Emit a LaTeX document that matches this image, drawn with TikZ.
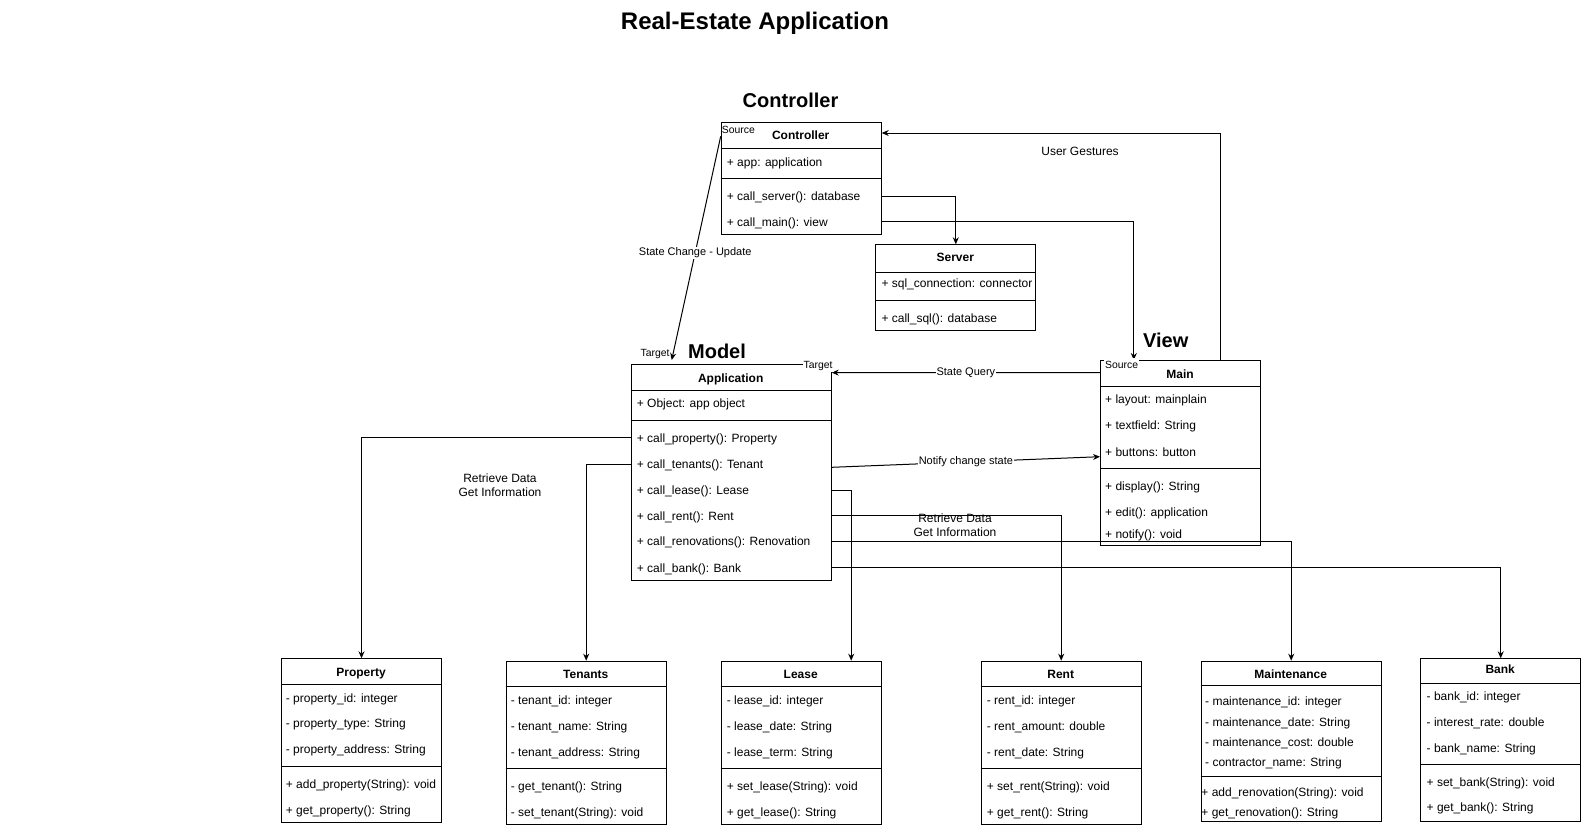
\documentclass[tikz,border=0pt]{standalone}
\usepackage{fontspec}
\setmainfont{Liberation Sans}
\usetikzlibrary{arrows.meta}

\tikzset{
  cls/.style={draw, line width=1pt, anchor=north west, inner sep=0pt, minimum width=160pt},
  hdr/.style={font=\fontsize{12}{14}\selectfont\bfseries, inner sep=0pt, text height=8.6pt, text depth=0pt},
  row/.style={font=\fontsize{12}{14}\selectfont, anchor=west, inner sep=0pt, text height=8.6pt, text depth=0pt},
  part/.style={font=\fontsize{20}{24}\selectfont\bfseries, inner sep=0pt, text height=14.4pt, text depth=0pt},
  elbl/.style={font=\fontsize{11}{13}\selectfont, fill=white, inner sep=1pt},
  note/.style={font=\fontsize{12}{14}\selectfont, align=center, inner sep=0pt},
  endlbl/.style={font=\fontsize{10.4}{12}\selectfont, inner sep=1pt, text height=7.4pt, text depth=0pt},
  arr/.style={-{Stealth[length=7pt,width=6pt]}, line width=1pt},
}

\begin{document}
\begin{tikzpicture}[x=1pt, y=-1pt]
  \useasboundingbox (0,0) rectangle (1581,828);
  \node[font=\fontsize{24}{28}\selectfont\bfseries, inner sep=0pt, text height=17.2pt, text depth=0pt] (title) at (755,20.5) {Real-Estate Application};
  \node[part] (p-ctrl) at (790.5,100.7) {Controller};
  \node[part] (p-model) at (717,351) {Model};
  \node[part] (p-view) at (1165.7,340.7) {View};

  \node[cls, minimum height=111.7pt] (ctrl) at (720.7,122.3) {};
  \draw[line width=1pt] ([yshift=-26.4pt]ctrl.north west) -- ([yshift=-26.4pt]ctrl.north east);
  \draw[line width=1pt] ([yshift=-56pt]ctrl.north west) -- ([yshift=-56pt]ctrl.north east);
  \node[hdr] (ctrl-h) at (800.7,135.5) {Controller};
  \node[row] (ctrl-a1) at (726.7,161.7) {+ app: application};
  \node[row] (ctrl-m1) at (726.7,196) {+ call\_server(): database};
  \node[row] (ctrl-m2) at (726.7,221.7) {+ call\_main(): view};
  \node[endlbl, anchor=west] (ctrl-src) at (720.7,129.3) {Source};

  \node[cls, minimum height=85.7pt] (server) at (875.3,244.3) {};
  \draw[line width=1pt] ([yshift=-28pt]server.north west) -- ([yshift=-28pt]server.north east);
  \draw[line width=1pt] ([yshift=-55.7pt]server.north west) -- ([yshift=-55.7pt]server.north east);
  \node[hdr] (server-h) at (955.3,257.3) {Server};
  \node[row] (server-a1) at (881.3,283.3) {+ sql\_connection: connector};
  \node[row] (server-m1) at (881.3,318) {+ call\_sql(): database};

  \node[cls, minimum width=200pt, minimum height=215.7pt] (app) at (630.7,364.3) {};
  \draw[line width=1pt] ([yshift=-26.4pt]app.north west) -- ([yshift=-26.4pt]app.north east);
  \draw[line width=1pt] ([yshift=-55.7pt]app.north west) -- ([yshift=-55.7pt]app.north east);
  \node[hdr] (app-h) at (730.7,377.7) {Application};
  \node[row] (app-a1) at (636.7,403.3) {+ Object: app object};
  \node[row] (app-m1) at (636.7,437.7) {+ call\_property(): Property};
  \node[row] (app-m2) at (636.7,464) {+ call\_tenants(): Tenant};
  \node[row] (app-m3) at (636.7,490) {+ call\_lease(): Lease};
  \node[row] (app-m4) at (636.7,515.7) {+ call\_rent(): Rent};
  \node[row] (app-m5) at (636.7,541.3) {+ call\_renovations(): Renovation};
  \node[row] (app-m6) at (636.7,567.7) {+ call\_bank(): Bank};

  \node[cls, minimum height=185pt] (main) at (1100,360) {};
  \draw[line width=1pt] ([yshift=-26.7pt]main.north west) -- ([yshift=-26.7pt]main.north east);
  \draw[line width=1pt] ([yshift=-108.3pt]main.north west) -- ([yshift=-108.3pt]main.north east);
  \node[hdr] (main-h) at (1180,374) {Main};
  \node[row] (main-a1) at (1105,399) {+ layout: mainplain};
  \node[row] (main-a2) at (1105,425) {+ textfield: String};
  \node[row] (main-a3) at (1105,452) {+ buttons: button};
  \node[row] (main-m1) at (1105,486) {+ display(): String};
  \node[row] (main-m2) at (1105,512) {+ edit(): application};
  \node[row] (main-m3) at (1105,534) {+ notify(): void};

  \node[cls, minimum height=164pt] (prop) at (281,658.3) {};
  \draw[line width=1pt] ([yshift=-25.7pt]prop.north west) -- ([yshift=-25.7pt]prop.north east);
  \draw[line width=1pt] ([yshift=-108.4pt]prop.north west) -- ([yshift=-108.4pt]prop.north east);
  \node[hdr] (prop-h) at (361,672.3) {Property};
  \node[row] (prop-a1) at (285.7,698.3) {- property\_id: integer};
  \node[row] (prop-a2) at (285.7,723.3) {- property\_type: String};
  \node[row] (prop-a3) at (285.7,749.3) {- property\_address: String};
  \node[row] (prop-m1) at (285.7,784) {+ add\_property(String): void};
  \node[row] (prop-m2) at (285.7,810.5) {+ get\_property(): String};

  \node[cls, minimum height=163.6pt] (ten) at (505.7,660.7) {};
  \draw[line width=1pt] ([yshift=-26pt]ten.north west) -- ([yshift=-26pt]ten.north east);
  \draw[line width=1pt] ([yshift=-107.6pt]ten.north west) -- ([yshift=-107.6pt]ten.north east);
  \node[hdr] (ten-h) at (585.7,674) {Tenants};
  \node[row] (ten-a1) at (510.7,700) {- tenant\_id: integer};
  \node[row] (ten-a2) at (510.7,726) {- tenant\_name: String};
  \node[row] (ten-a3) at (510.7,751.7) {- tenant\_address: String};
  \node[row] (ten-m1) at (510.7,785.7) {- get\_tenant(): String};
  \node[row] (ten-m2) at (510.7,811.7) {- set\_tenant(String): void};

  \node[cls, minimum height=163.6pt] (lease) at (720.7,660.7) {};
  \draw[line width=1pt] ([yshift=-26pt]lease.north west) -- ([yshift=-26pt]lease.north east);
  \draw[line width=1pt] ([yshift=-107.6pt]lease.north west) -- ([yshift=-107.6pt]lease.north east);
  \node[hdr] (lease-h) at (800.7,674) {Lease};
  \node[row] (lease-a1) at (726.7,700) {- lease\_id: integer};
  \node[row] (lease-a2) at (726.7,726) {- lease\_date: String};
  \node[row] (lease-a3) at (726.7,751.7) {- lease\_term: String};
  \node[row] (lease-m1) at (726.7,785.7) {+ set\_lease(String): void};
  \node[row] (lease-m2) at (726.7,811.7) {+ get\_lease(): String};

  \node[cls, minimum height=163.6pt] (rent) at (980.7,660.7) {};
  \draw[line width=1pt] ([yshift=-26pt]rent.north west) -- ([yshift=-26pt]rent.north east);
  \draw[line width=1pt] ([yshift=-107.6pt]rent.north west) -- ([yshift=-107.6pt]rent.north east);
  \node[hdr] (rent-h) at (1060.7,674) {Rent};
  \node[row] (rent-a1) at (986.7,700) {- rent\_id: integer};
  \node[row] (rent-a2) at (986.7,726) {- rent\_amount: double};
  \node[row] (rent-a3) at (986.7,751.7) {- rent\_date: String};
  \node[row] (rent-m1) at (986.7,785.7) {+ set\_rent(String): void};
  \node[row] (rent-m2) at (986.7,811.7) {+ get\_rent(): String};

  \node[cls, minimum width=180pt, minimum height=160pt] (maint) at (1200.7,660.7) {};
  \draw[line width=1pt] ([yshift=-25pt]maint.north west) -- ([yshift=-25pt]maint.north east);
  \draw[line width=1pt] ([yshift=-115.3pt]maint.north west) -- ([yshift=-115.3pt]maint.north east);
  \node[hdr] (maint-h) at (1290.7,674) {Maintenance};
  \node[row] (maint-a1) at (1205,701) {- maintenance\_id: integer};
  \node[row] (maint-a2) at (1205,721.7) {- maintenance\_date: String};
  \node[row] (maint-a3) at (1205,741.7) {- maintenance\_cost: double};
  \node[row] (maint-a4) at (1205,762.3) {- contractor\_name: String};
  \node[row] (maint-m1) at (1201.2,791.7) {+ add\_renovation(String): void};
  \node[row] (maint-m2) at (1201.2,811.7) {+ get\_renovation(): String};

  \node[cls, minimum height=162.4pt] (bank) at (1420.2,658.3) {};
  \draw[line width=1pt] ([yshift=-25pt]bank.north west) -- ([yshift=-25pt]bank.north east);
  \draw[line width=1pt] ([yshift=-105.7pt]bank.north west) -- ([yshift=-105.7pt]bank.north east);
  \node[hdr] (bank-h) at (1500.2,669) {Bank};
  \node[row] (bank-a1) at (1426.5,696) {- bank\_id: integer};
  \node[row] (bank-a2) at (1426.5,721.7) {- interest\_rate: double};
  \node[row] (bank-a3) at (1426.5,748.3) {- bank\_name: String};
  \node[row] (bank-m1) at (1426.5,781.7) {+ set\_bank(String): void};
  \node[row] (bank-m2) at (1426.5,807.3) {+ get\_bank(): String};

  \draw[arr] ([yshift=-14pt]ctrl.north west) -- ([xshift=41pt,yshift=4.3pt]app.north west) node[elbl, pos=0.52] (chg) {State Change - Update};
  \node[endlbl, anchor=east] (tgt1) at ([xshift=40pt,yshift=11.6pt]app.north west) {Target};
  \draw[arr] (ctrl.east |- ctrl-m1) -| (server.north);
  \draw[arr] (ctrl.east |- ctrl-m2) -| ([xshift=-46.7pt]main.north);
  \draw[arr] ([xshift=40pt]main.north) |- ([yshift=-10.7pt]ctrl.north east);
  \node[note] (gest) at (1080,151) {User Gestures};
  \draw[arr] ([yshift=-12.5pt]main.north west) -- ([yshift=-8.3pt]app.north east) node[elbl, midway] (query) {State Query};
  \node[endlbl, fill=white, anchor=east, inner ysep=3pt] (tgt2) at ([xshift=2pt,yshift=-0.7pt]app.north east) {Target};
  \node[endlbl, fill=white, anchor=west, inner ysep=3pt] (main-src) at ([xshift=4pt,yshift=-5pt]main.north west) {Source};
  \draw[arr] ([yshift=-103pt]app.north east) -- ([yshift=-96.7pt]main.north west) node[elbl, midway] (notify) {Notify change state};

  \draw[arr] (app.west |- app-m1) -| (prop.north);
  \draw[arr] (app.west |- app-m2) -| (ten.north);
  \draw[arr] (app.east |- app-m3) -| ([xshift=50pt]lease.north);
  \draw[arr] (app.east |- app-m4) -| (rent.north);
  \draw[arr] (app.east |- app-m5) -| (maint.north);
  \draw[arr] (app.east |- app-m6) -| (bank.north);
  \node[note] (ret1) at (500,485) {Retrieve Data\\Get Information};
  \node[note] (ret2) at (955,525) {Retrieve Data\\Get Information};
\end{tikzpicture}
\end{document}
